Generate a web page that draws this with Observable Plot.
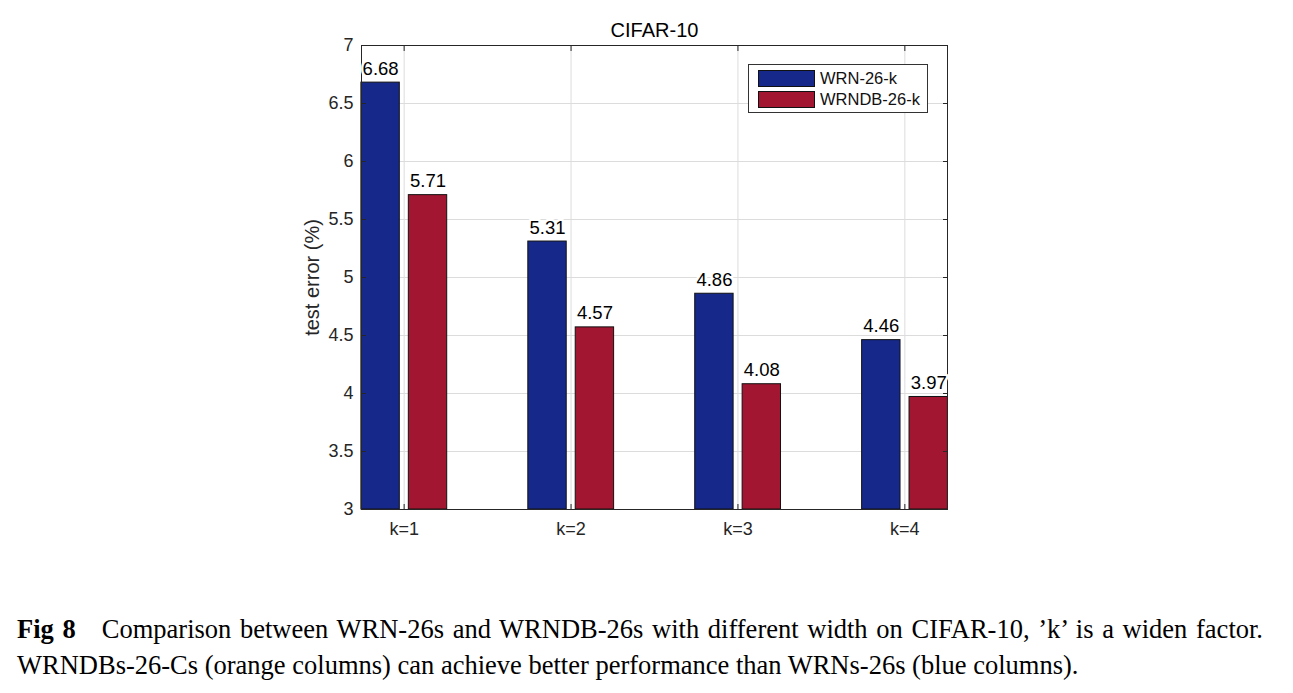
<!DOCTYPE html>
<html>
<head>
<meta charset="utf-8">
<script src="https://cdn.jsdelivr.net/npm/d3@7"></script>
<script src="https://cdn.jsdelivr.net/npm/@observablehq/plot@0.6"></script>
<style>
  html, body { margin: 0; padding: 0; background: #fff; }
  #wrap { position: relative; width: 1293px; height: 693px; overflow: hidden; }
  #chart g[aria-label="y-axis tick label"], #chart g[aria-label="y-axis tick label"] text,
  #chart g[aria-label="x-axis tick label"], #chart g[aria-label="x-axis tick label"] text { font-size: 18px !important; fill: #262626; }
  #legend { position: absolute; left: 748px; top: 64px; width: 180px; height: 49px;
    border: 1px solid #333; background: #fff; box-sizing: border-box;
    font-family: "Liberation Sans", Arial, sans-serif; font-size: 16.5px; color: #111; }
  .item { position: absolute; left: 9px; height: 17px; display: flex; align-items: center; }
  .sw { width: 57px; height: 17px; border: 1px solid #111; box-sizing: border-box; margin-right: 5px; }
  #caption { position: absolute; left: 17px; top: 611px; width: 1246px;
    font-family: "Liberation Serif", "Times New Roman", serif; font-size: 26.5px; line-height: 36px; color: #000; }
  #caption .l1 { text-align: justify; text-align-last: justify; white-space: nowrap; }
  #caption .l2 { white-space: nowrap; }
</style>
</head>
<body>
<div id="wrap">
  <div id="chart"></div>
  <div id="legend"></div>
  <div id="caption"><div class="l1"><b>Fig 8</b>&nbsp;&nbsp; Comparison between WRN-26s and WRNDB-26s with different width on CIFAR-10, ’k’ is a widen factor.</div><div class="l2">WRNDBs-26-Cs (orange columns) can achieve better performance than WRNs-26s (blue columns).</div></div>
</div>
<script>
const categories = ["k=1", "k=2", "k=3", "k=4"];
const seriesNames = ["WRN-26-k", "WRNDB-26-k"];
const wrn = [6.68, 5.31, 4.86, 4.46];
const wrndb = [5.71, 4.57, 4.08, 3.97];
const yTicks = [3, 3.5, 4, 4.5, 5, 5.5, 6, 6.5, 7];
const colors = ["#16298a", "#a31631"];

const barW = 0.23;
const offsets = {"WRN-26-k": -0.141, "WRNDB-26-k": 0.143};

const rows = [];
categories.forEach((c, i) => {
  rows.push({cat: c, i: i + 1, series: seriesNames[0], value: wrn[i]});
  rows.push({cat: c, i: i + 1, series: seriesNames[1], value: wrndb[i]});
});

const font = "'Liberation Sans', Arial, sans-serif";

const chart = Plot.plot({
  width: 1293,
  height: 580,
  marginLeft: 361,
  marginRight: 346,
  marginTop: 45,
  marginBottom: 71,
  style: {fontFamily: font, fontSize: "18px", color: "#262626", background: "#fff"},
  x: {domain: [0.7445, 4.2555], ticks: [1, 2, 3, 4], tickFormat: d => categories[d - 1]},
  y: {domain: [3, 7], ticks: yTicks, tickFormat: d => String(d)},
  color: {domain: seriesNames, range: colors},
  marks: [
    Plot.gridY(yTicks, {stroke: "#dcdcdc", strokeOpacity: 1}),
    Plot.gridX([1, 2, 3, 4], {stroke: "#dcdcdc", strokeOpacity: 1}),
    Plot.rect(rows, {
      x1: d => d.i + offsets[d.series] - barW / 2,
      x2: d => d.i + offsets[d.series] + barW / 2,
      y1: 3, y2: "value", fill: "series", stroke: "#111", strokeWidth: 1
    }),
    Plot.frame({stroke: "#262626", strokeWidth: 1}),
    Plot.axisY({ticks: yTicks, tickSize: -5, tickPadding: 13, tickFormat: d => String(d), label: null, stroke: "#262626"}),
    Plot.axisY({anchor: "right", ticks: yTicks, tickSize: -5, tickFormat: () => "", label: null, stroke: "#262626"}),
    Plot.axisX({ticks: [1, 2, 3, 4], tickSize: -5, tickPadding: 18, tickFormat: d => categories[d - 1], label: null, stroke: "#262626"}),
    Plot.axisX({anchor: "top", ticks: [1, 2, 3, 4], tickSize: -5, tickFormat: () => "", label: null, stroke: "#262626"}),
    Plot.text(rows, {
      x: d => d.i + offsets[d.series], y: "value", text: d => d.value.toFixed(2),
      lineAnchor: "bottom", dy: -8, fontSize: 18.5, fill: "#000",
      stroke: "white", strokeWidth: 5, paintOrder: "stroke"
    }),
    Plot.text(["test error (%)"], {frameAnchor: "left", textAnchor: "middle", rotate: -90, dx: -49, fontSize: 20, fill: "#262626", lineAnchor: "middle"}),
    Plot.text(["CIFAR-10"], {frameAnchor: "top", dy: -9, fontSize: 20, fill: "#000", lineAnchor: "bottom"})
  ]
});
document.getElementById("chart").appendChild(chart);

const legend = document.getElementById("legend");
seriesNames.forEach((s, i) => {
  const it = document.createElement("div");
  it.className = "item";
  it.style.top = (5 + i * 21) + "px";
  it.innerHTML = `<div class="sw" style="background:${colors[i]}"></div><span>${s}</span>`;
  legend.appendChild(it);
});
</script>
</body>
</html>
